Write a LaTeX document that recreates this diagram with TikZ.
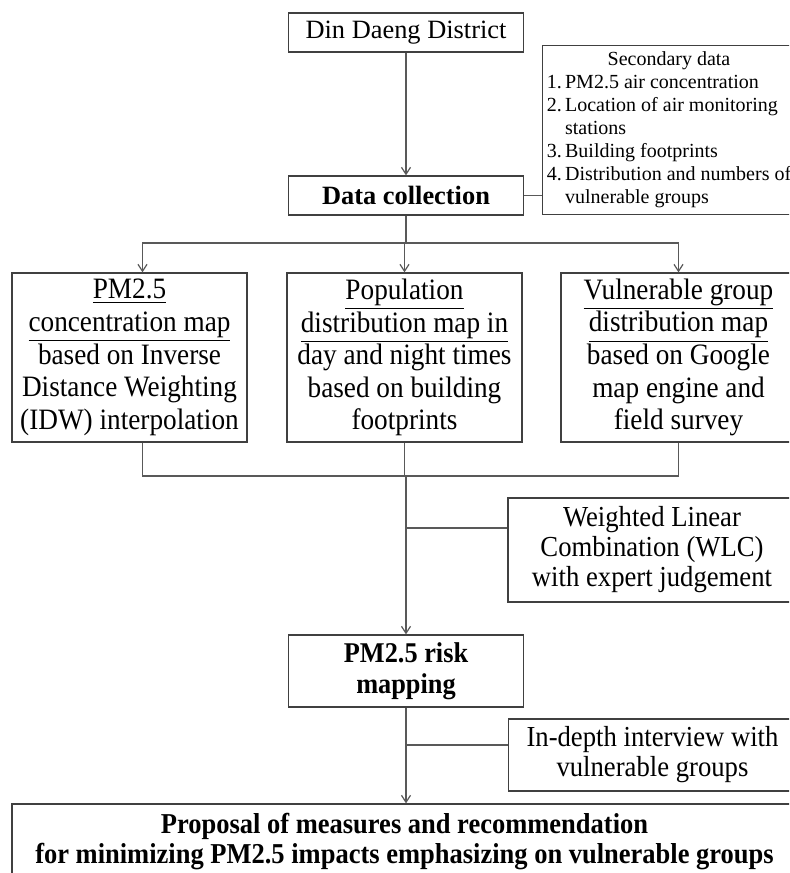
\documentclass[tikz,border=0pt]{standalone}
\usepackage{fontspec}
\setmainfont{Liberation Serif}
\newfontfamily\narrowserif[FakeStretch=0.92]{Liberation Serif}
\usetikzlibrary{arrows.meta}

\tikzset{
  line/.style={draw=black!65,line width=0.6pt},
  box/.style={draw=black!75,line width=0.6pt,align=center,inner sep=2pt,minimum width=117.5pt},
  topbox/.style={box,minimum height=19.5pt,font=\fontsize{13.2}{15}\selectfont},
  mapbox/.style={box,minimum height=84.5pt,font=\narrowserif\fontsize{14.8}{16.3}\selectfont},
  sidebox/.style={box,minimum width=144pt,font=\narrowserif\fontsize{14.5}{15}\selectfont},
}

\begin{document}
\begin{tikzpicture}[x=0.5pt,y=-0.5pt,>={Straight Barb[length=3.5pt,width=4.5pt]}]
  \useasboundingbox (0,0) rectangle (789,873);
  \clip (0,0) rectangle (789,873);

  \node[topbox] (din) at (406,32.5) {Din Daeng District};
  \node[topbox,font=\fontsize{13.2}{15}\selectfont\bfseries] (data) at (406,195.5) {Data collection};
  \node[box,minimum width=125pt,minimum height=83pt,font=\fontsize{10}{11.5}\selectfont] (sec) at (669,130)
    {\begin{tabular}{@{}l@{\,}l@{}}
      \multicolumn{2}{c}{Secondary data}\\
      1. & PM2.5 air concentration\\
      2. & Location of air monitoring\\
         & stations\\
      3. & Building footprints\\
      4. & Distribution and numbers of\\
         & vulnerable groups
    \end{tabular}};

  \node[mapbox] (conc) at (129.5,357.5)
    {\underline{PM2.5}\\ \underline{concentration map}\\ based on Inverse\\ Distance Weighting\\ (IDW) interpolation};
  \node[mapbox] (pop) at (404.5,357.5)
    {\underline{Population}\\ \underline{distribution map in}\\ day and night times\\ based on building\\ footprints};
  \node[mapbox] (vul) at (678.5,357.5)
    {\underline{Vulnerable group}\\ \underline{distribution map}\\ based on Google\\ map engine and\\ field survey};

  \node[sidebox,minimum height=52pt] (wlc) at (652,550)
    {Weighted Linear\\ Combination (WLC)\\ with expert judgement};
  \node[topbox,minimum height=36pt,font=\narrowserif\fontsize{14.3}{15.3}\selectfont\bfseries] (risk) at (406,671)
    {PM2.5 risk\\ mapping};
  \node[sidebox,minimum height=36pt] (inter) at (652.5,755)
    {In-depth interview with\\ vulnerable groups};
  \node[box,minimum width=392.5pt,minimum height=38pt,font=\narrowserif\fontsize{14.4}{15}\selectfont\bfseries] (prop) at (404.5,842)
    {Proposal of measures and recommendation\\ for minimizing PM2.5 impacts emphasizing on vulnerable groups};

  \coordinate (split) at (406,243);
  \coordinate (join) at (406,476);

  \draw[line,->] (din) -- (data);
  \draw[line] (data) -- (data.east -| sec.west);
  \draw[line] (data) -- (split);
  \draw[line,->] (split) -| ([xshift=6.5pt]conc.north);
  \draw[line,->] (split) -| (pop.north);
  \draw[line,->] (split) -| (vul.north);
  \draw[line] ([xshift=6.5pt]conc.south) |- (join);
  \draw[line] (vul.south) |- (join);
  \draw[line] (pop.south) |- (join);
  \draw[line,->] (join) -- (risk);
  \draw[line] ([yshift=11pt]wlc.west) -- ([yshift=11pt]wlc.west -| join);
  \draw[line,->] (risk) -- (risk.south |- prop.north);
  \draw[line] ([yshift=5pt]inter.west) -- ([yshift=5pt]inter.west -| risk.south);
\end{tikzpicture}
\end{document}
